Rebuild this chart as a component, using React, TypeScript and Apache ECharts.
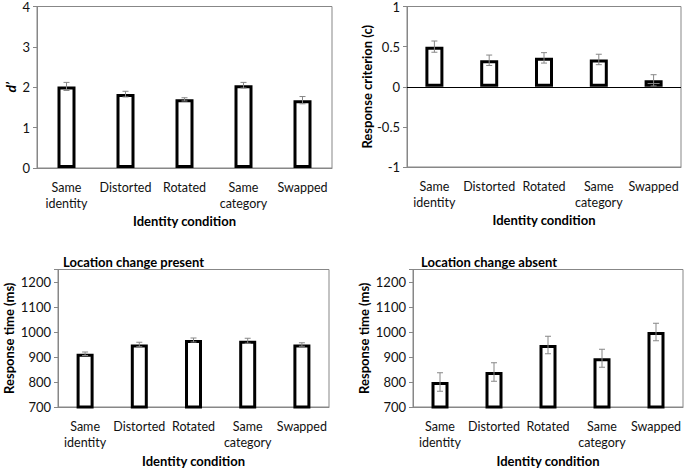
import React, { useEffect, useRef } from "react";
import * as echarts from "echarts";

const categories = ["Same\nidentity", "Distorted", "Rotated", "Same\ncategory", "Swapped"];
const dPrime = [2.02, 1.83, 1.7, 2.05, 1.68];
const dPrimeErr = [0.1, 0.07, 0.04, 0.07, 0.09];
const criterion = [0.5, 0.33, 0.36, 0.34, 0.08];
const criterionErr = [0.07, 0.065, 0.065, 0.065, 0.07];
const rtPresent = [913, 950, 968, 965, 950];
const rtPresentErr = [7, 9, 8, 10, 7];
const rtAbsent = [800, 840, 948, 895, 1000];
const rtAbsentErr = [37, 37, 35, 36, 35];

const FONT = "Lato";
const GRAY = "#878787";

export default function App() {
  const ref = useRef<HTMLDivElement>(null);
  useEffect(() => {
    if (!ref.current) return;
    const chart = echarts.init(ref.current, null, { renderer: "svg" });

    const grids = [
      { left: 37, top: 6, width: 295, height: 162 },
      { left: 407, top: 5, width: 274, height: 162 },
      { left: 58, top: 269.5, width: 271, height: 137.5 },
      { left: 413, top: 269.5, width: 270, height: 137.5 },
    ];
    const yCfg = [
      { min: 0, max: 4, interval: 1, name: "d’", gap: 20, italic: true },
      { min: -1, max: 1, interval: 0.5, name: "Response criterion (c)", gap: 34, italic: false },
      { min: 700, max: 1250, interval: 100, name: "Response time (ms)", gap: 43, italic: false },
      { min: 700, max: 1250, interval: 100, name: "Response time (ms)", gap: 43, italic: false },
    ];
    const values = [dPrime, criterion, rtPresent, rtAbsent];
    const errs = [dPrimeErr, criterionErr, rtPresentErr, rtAbsentErr];
    const barW = [18, 18, 17, 17];

    const xAxis = grids.map((_, i) => ({
      type: "category",
      gridIndex: i,
      data: categories,
      axisLine: { onZero: false, lineStyle: { color: GRAY, width: 1 } },
      axisTick: { show: false },
      axisLabel: {
        color: "#111",
        fontFamily: FONT,
        fontSize: 12.5,
        lineHeight: 16,
        margin: 11,
        interval: 0,
      },
      name: "Identity condition",
      nameLocation: "middle",
      nameGap: i < 2 ? 46 : 47,
      nameTextStyle: { fontFamily: FONT, fontWeight: "bold", fontSize: 13, color: "#000" },
    }));

    const yAxis = yCfg.map((c, i) => ({
      type: "value",
      gridIndex: i,
      min: c.min,
      max: c.max,
      interval: c.interval,
      splitLine: { show: false },
      axisLine: { show: true, lineStyle: { color: GRAY, width: 1 } },
      axisTick: { show: true, inside: false, length: 4, lineStyle: { color: GRAY } },
      axisLabel: {
        color: "#111",
        fontFamily: FONT,
        fontSize: 13,
        margin: 7,
        formatter: (v: number) => (i >= 2 && v % 100 !== 0 ? "" : String(v)),
      },
      name: c.name,
      nameLocation: "middle",
      nameGap: c.gap,
      nameTextStyle: {
        fontFamily: FONT,
        fontWeight: "bold",
        fontStyle: c.italic ? "italic" : "normal",
        fontSize: c.italic ? 14 : 13,
        color: "#000",
      },
    }));

    const series: any[] = [];
    values.forEach((vals, i) => {
      series.push({
        type: "bar",
        xAxisIndex: i,
        yAxisIndex: i,
        data: vals,
        barWidth: barW[i],
        itemStyle: { color: "#fff", borderColor: "#000", borderWidth: 3 },
        markLine:
          i === 1
            ? {
                silent: true,
                symbol: "none",
                label: { show: false },
                lineStyle: { color: "#000", width: 1, type: "solid" },
                data: [{ yAxis: 0 }],
              }
            : undefined,
      });
      series.push({
        type: "custom",
        xAxisIndex: i,
        yAxisIndex: i,
        z: 5,
        data: vals.map((v, k) => [k, v, errs[i][k]]),
        encode: { x: 0, y: 1 },
        renderItem: (params: any, api: any) => {
          const x = api.value(0);
          const v = api.value(1);
          const e = api.value(2);
          const top = api.coord([x, v + e]);
          const bot = api.coord([x, v - e]);
          const hw = 3;
          const style = { stroke: GRAY, lineWidth: 1 };
          return {
            type: "group",
            children: [
              { type: "line", shape: { x1: top[0], y1: top[1], x2: bot[0], y2: bot[1] }, style },
              { type: "line", shape: { x1: top[0] - hw, y1: top[1], x2: top[0] + hw, y2: top[1] }, style },
              { type: "line", shape: { x1: bot[0] - hw, y1: bot[1], x2: bot[0] + hw, y2: bot[1] }, style },
            ],
          };
        },
      });
    });

    chart.setOption({
      animation: false,
      backgroundColor: "#fff",
      title: [
        {
          text: "Location change present",
          left: 58,
          top: 250,
          textStyle: { fontFamily: FONT, fontWeight: "bold", fontSize: 13, color: "#000" },
        },
        {
          text: "Location change absent",
          left: 416,
          top: 250,
          textStyle: { fontFamily: FONT, fontWeight: "bold", fontSize: 13, color: "#000" },
        },
      ],
      grid: grids.map((g) => ({ ...g, show: true, borderColor: GRAY, borderWidth: 1, backgroundColor: "transparent" })),
      xAxis,
      yAxis,
      series,
    });
    return () => chart.dispose();
  }, []);
  return <div ref={ref} style={{ position: "fixed", left: 0, top: 0, width: 685, height: 469 }} />;
}
